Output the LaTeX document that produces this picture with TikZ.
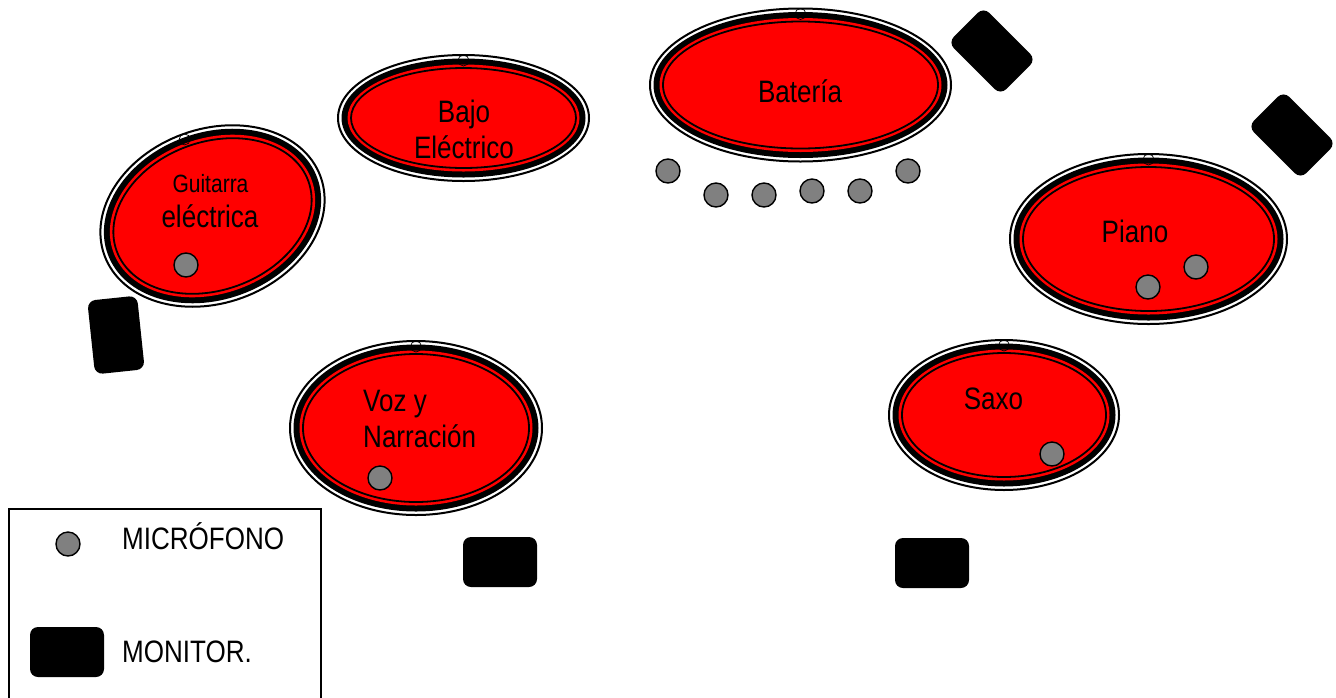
\documentclass[tikz,border=0pt]{standalone}
\usepackage{fontspec}
\setmainfont[FakeStretch=0.84]{Liberation Sans}
\definecolor{instrred}{RGB}{255,0,0}
\definecolor{micgray}{RGB}{128,128,128}
\tikzset{
  micro/.style={circle, draw=black, line width=1.4pt, fill=micgray, minimum size=24pt, inner sep=0pt},
  monitor/.style={rectangle, fill=black, rounded corners=8pt, minimum width=74pt, minimum height=50pt, inner sep=0pt},
  marker/.style={circle, draw=black, line width=0.7pt, minimum size=11pt, inner sep=0pt},
  lbl/.style={inner sep=0pt, font=\fontsize{31}{36}\selectfont},
  smalllbl/.style={inner sep=0pt, font=\fontsize{25}{30}\selectfont},
}
\newcommand\stageinstr[6]{%
  \begin{scope}[shift={(#2,#3)},rotate=#6]
    \pgfmathsetmacro\rxo{#4-1}\pgfmathsetmacro\ryo{#5-1}
    \pgfmathsetmacro\rxa{#4-4.5}\pgfmathsetmacro\rya{#5-4.5}
    \pgfmathsetmacro\rxb{#4-10.5}\pgfmathsetmacro\ryb{#5-10.5}
    \pgfmathsetmacro\rxc{#4-14}\pgfmathsetmacro\ryc{#5-14}
    \draw[line width=2pt, fill=white] (0,0) ellipse [x radius=\rxo pt, y radius=\ryo pt];
    \fill[black] (0,0) ellipse [x radius=\rxa pt, y radius=\rya pt];
    \fill[instrred] (0,0) ellipse [x radius=\rxb pt, y radius=\ryb pt];
    \draw[line width=1.8pt, fill=instrred] (0,0) ellipse [x radius=\rxc pt, y radius=\ryc pt];
    \node[marker] (#1-mark) at (0,{-#5+6.5}) {};
  \end{scope}}
\begin{document}
\begin{tikzpicture}[x=1pt,y=-1pt]
\useasboundingbox (0,0) rectangle (1336,697);

% instruments
\stageinstr{guitarra}{212.5}{216}{116}{88}{20}
\stageinstr{bajo}{463.5}{118}{126.5}{64}{0}
\stageinstr{bateria}{800.5}{85}{151.5}{77.5}{0}
\stageinstr{piano}{1148.5}{239}{139.5}{86}{0}
\stageinstr{voz}{416}{428}{127}{88}{0}
\stageinstr{saxo}{1004}{415}{116}{76}{0}

% labels
\node[lbl, anchor=base] (tbateria) at (800,102) {Batería};
\node[lbl, anchor=base] (tbajo1) at (464,122) {Bajo};
\node[lbl, anchor=base] (tbajo2) at (464,158) {Eléctrico};
\node[smalllbl, anchor=base] (tguit1) at (210.5,192) {Guitarra};
\node[lbl, anchor=base] (tguit2) at (210,227) {eléctrica};
\node[lbl, anchor=base] (tpiano) at (1135,242) {Piano};
\node[lbl, anchor=base] (tsaxo) at (993.5,409.5) {Saxo};
\node[lbl, anchor=base west] (tvoz1) at (363,411) {Voz y};
\node[lbl, anchor=base west] (tvoz2) at (363,447) {Narración};

% microphones
\node[micro] (mguit) at (186,265) {};
\node[micro] (mdrum1) at (668,171) {};
\node[micro] (mdrum2) at (716,195) {};
\node[micro] (mdrum3) at (764,195) {};
\node[micro] (mdrum4) at (812,191) {};
\node[micro] (mdrum5) at (860,191) {};
\node[micro] (mdrum6) at (908,171) {};
\node[micro] (mpiano1) at (1148,287) {};
\node[micro] (mpiano2) at (1196,267) {};
\node[micro] (mvoz) at (380,478) {};
\node[micro] (msaxo) at (1052,454) {};

% monitors
\node[monitor, minimum width=50pt, minimum height=74pt, rotate=6] (mon1) at (116,335) {};
\node[monitor, rotate=-45] (mon2) at (992,51) {};
\node[monitor, rotate=-45] (mon3) at (1292,135) {};
\node[monitor] (mon4) at (500,562) {};
\node[monitor] (mon5) at (932,563) {};

% legend
\node[draw=black, line width=1.5pt, anchor=north west, minimum width=312pt, minimum height=210pt, inner sep=0pt] (legend) at (8,508) {};
\node[micro] (legmic) at (68,544) {};
\node[lbl, anchor=base west] (legmictxt) at (122,549) {MICRÓFONO};
\node[monitor] (legmon) at (67,652) {};
\node[lbl, anchor=base west] (legmontxt) at (122,662) {MONITOR.};
\end{tikzpicture}
\end{document}
